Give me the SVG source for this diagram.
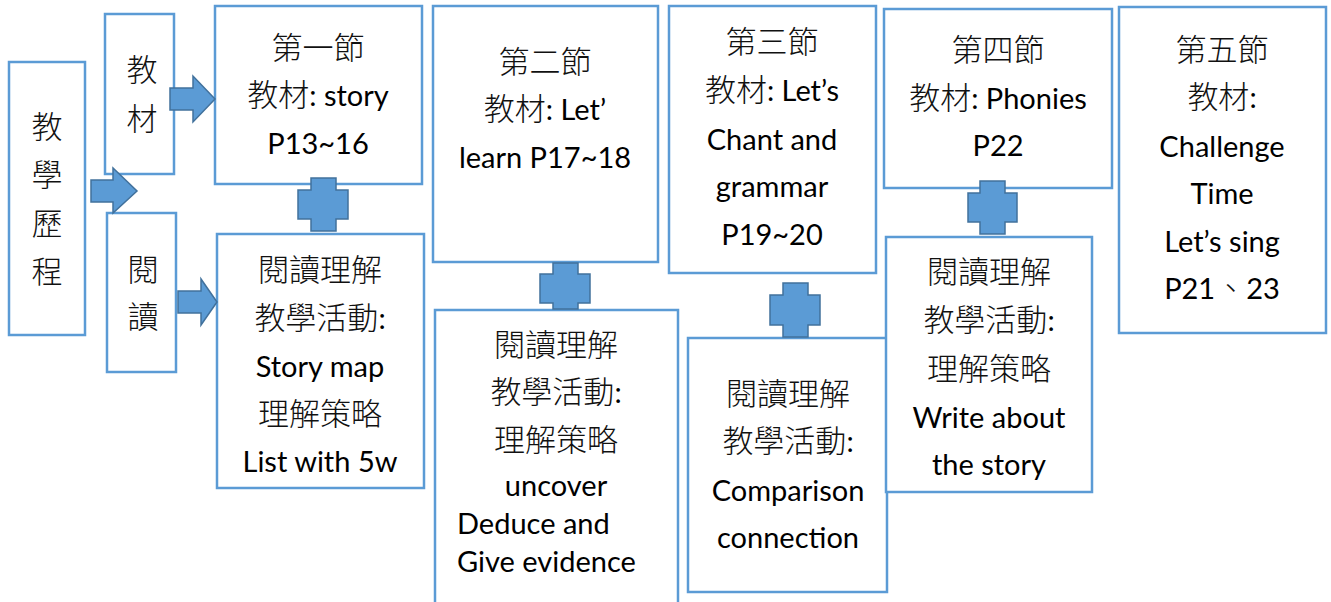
<svg xmlns="http://www.w3.org/2000/svg" width="1331" height="602" viewBox="0 0 1331 602">
<style>
.box{fill:#fff;stroke:#5B9BD5;stroke-width:2.5}
.sh{fill:#5B9BD5;stroke:#41719C;stroke-width:1.5;stroke-linejoin:miter}
text{font-family:Lato,"Noto Sans CJK TC",sans-serif;font-size:29px;fill:#000;text-anchor:middle}
.c{font-family:"Noto Sans CJK TC",sans-serif;font-size:31px;font-weight:300;fill:#111}
.l{text-anchor:start}
</style>
<rect width="1331" height="602" fill="#fff"/>
<g id="nodes">
<g id="n-process">
<rect class="box" x="9" y="62" width="76" height="273"/>
<text x="47" y="138" class="c">教</text>
<text x="47" y="186" class="c">學</text>
<text x="47" y="235" class="c">歷</text>
<text x="47" y="283" class="c">程</text>
</g>
<g id="n-material">
<rect class="box" x="105" y="14" width="69" height="160"/>
<text x="142" y="81" class="c">教</text>
<text x="142" y="130" class="c">材</text>
</g>
<g id="n-reading">
<rect class="box" x="107" y="213" width="69" height="159"/>
<text x="143" y="281" class="c">閱</text>
<text x="143" y="328" class="c">讀</text>
</g>
<g id="n-l1">
<rect class="box" x="215" y="6" width="207" height="178"/>
<text x="318" y="59" class="c">第一節</text>
<text x="318" y="106"><tspan class="c">教材</tspan>: story</text>
<text x="318" y="154">P13~16</text>
</g>
<g id="n-r1">
<rect class="box" x="217" y="234" width="207" height="254"/>
<text x="320" y="281" class="c">閱讀理解</text>
<text x="320" y="329"><tspan class="c">教學活動</tspan>:</text>
<text x="320" y="377">Story map</text>
<text x="320" y="425" class="c">理解策略</text>
<text x="320" y="472">List with 5w</text>
</g>
<g id="n-l2">
<rect class="box" x="433" y="6" width="225" height="256"/>
<text x="545" y="73" class="c">第二節</text>
<text x="545" y="120"><tspan class="c">教材</tspan>: Let’</text>
<text x="545" y="168">learn P17~18</text>
</g>
<g id="n-r2">
<rect class="box" x="435" y="310" width="243" height="300"/>
<text x="556" y="356" class="c">閱讀理解</text>
<text x="556" y="403"><tspan class="c">教學活動</tspan>:</text>
<text x="556" y="451" class="c">理解策略</text>
<text x="556" y="496">uncover</text>
<text x="457" y="534" class="l">Deduce and</text>
<text x="457" y="572" class="l">Give evidence</text>
</g>
<g id="n-l3">
<rect class="box" x="669" y="6" width="207" height="267"/>
<text x="772" y="53" class="c">第三節</text>
<text x="772" y="101"><tspan class="c">教材</tspan>: Let’s</text>
<text x="772" y="150">Chant and</text>
<text x="772" y="197">grammar</text>
<text x="772" y="245">P19~20</text>
</g>
<g id="n-r3">
<rect class="box" x="688" y="338" width="199" height="254"/>
<text x="788" y="405" class="c">閱讀理解</text>
<text x="788" y="452"><tspan class="c">教學活動</tspan>:</text>
<text x="788" y="501">Comparison</text>
<text x="788" y="548">connection</text>
</g>
<g id="n-l4">
<rect class="box" x="884" y="9" width="228" height="179"/>
<text x="998" y="61" class="c">第四節</text>
<text x="998" y="109"><tspan class="c">教材</tspan>: Phonies</text>
<text x="998" y="156">P22</text>
</g>
<g id="n-r4">
<rect class="box" x="886" y="237" width="206" height="255"/>
<text x="989" y="283" class="c">閱讀理解</text>
<text x="989" y="331"><tspan class="c">教學活動</tspan>:</text>
<text x="989" y="380" class="c">理解策略</text>
<text x="989" y="428">Write about</text>
<text x="989" y="475">the story</text>
</g>
<g id="n-l5">
<rect class="box" x="1119" y="7" width="207" height="326"/>
<text x="1222" y="61" class="c">第五節</text>
<text x="1222" y="108"><tspan class="c">教材</tspan>:</text>
<text x="1222" y="157">Challenge</text>
<text x="1222" y="204">Time</text>
<text x="1222" y="252">Let’s sing</text>
<text x="1222" y="299">P21<tspan class="c">、</tspan>23</text>
</g>
</g>
<g id="connectors">
<path class="sh" d="M170,88 H193 V76 L215,99 L193,122 V110 H170 Z"/>
<path class="sh" d="M91,180 H113 V168 L137,191 L113,213 V202 H91 Z"/>
<path class="sh" d="M178,291 H201 V279 L217,302 L201,325 V313 H178 Z"/>
<path class="sh" d="M311,178 H336 V190 H348 V219 H336 V231 H311 V219 H298 V190 H311 Z"/>
<path class="sh" d="M553,263 H578 V274 H590 V303 H578 V309 H553 V303 H540 V274 H553 Z"/>
<path class="sh" d="M783,283 H808 V295 H820 V325 H808 V337 H783 V325 H770 V295 H783 Z"/>
<path class="sh" d="M980,181 H1005 V193 H1017 V222 H1005 V234 H980 V222 H968 V193 H980 Z"/>
</g>
</svg>
